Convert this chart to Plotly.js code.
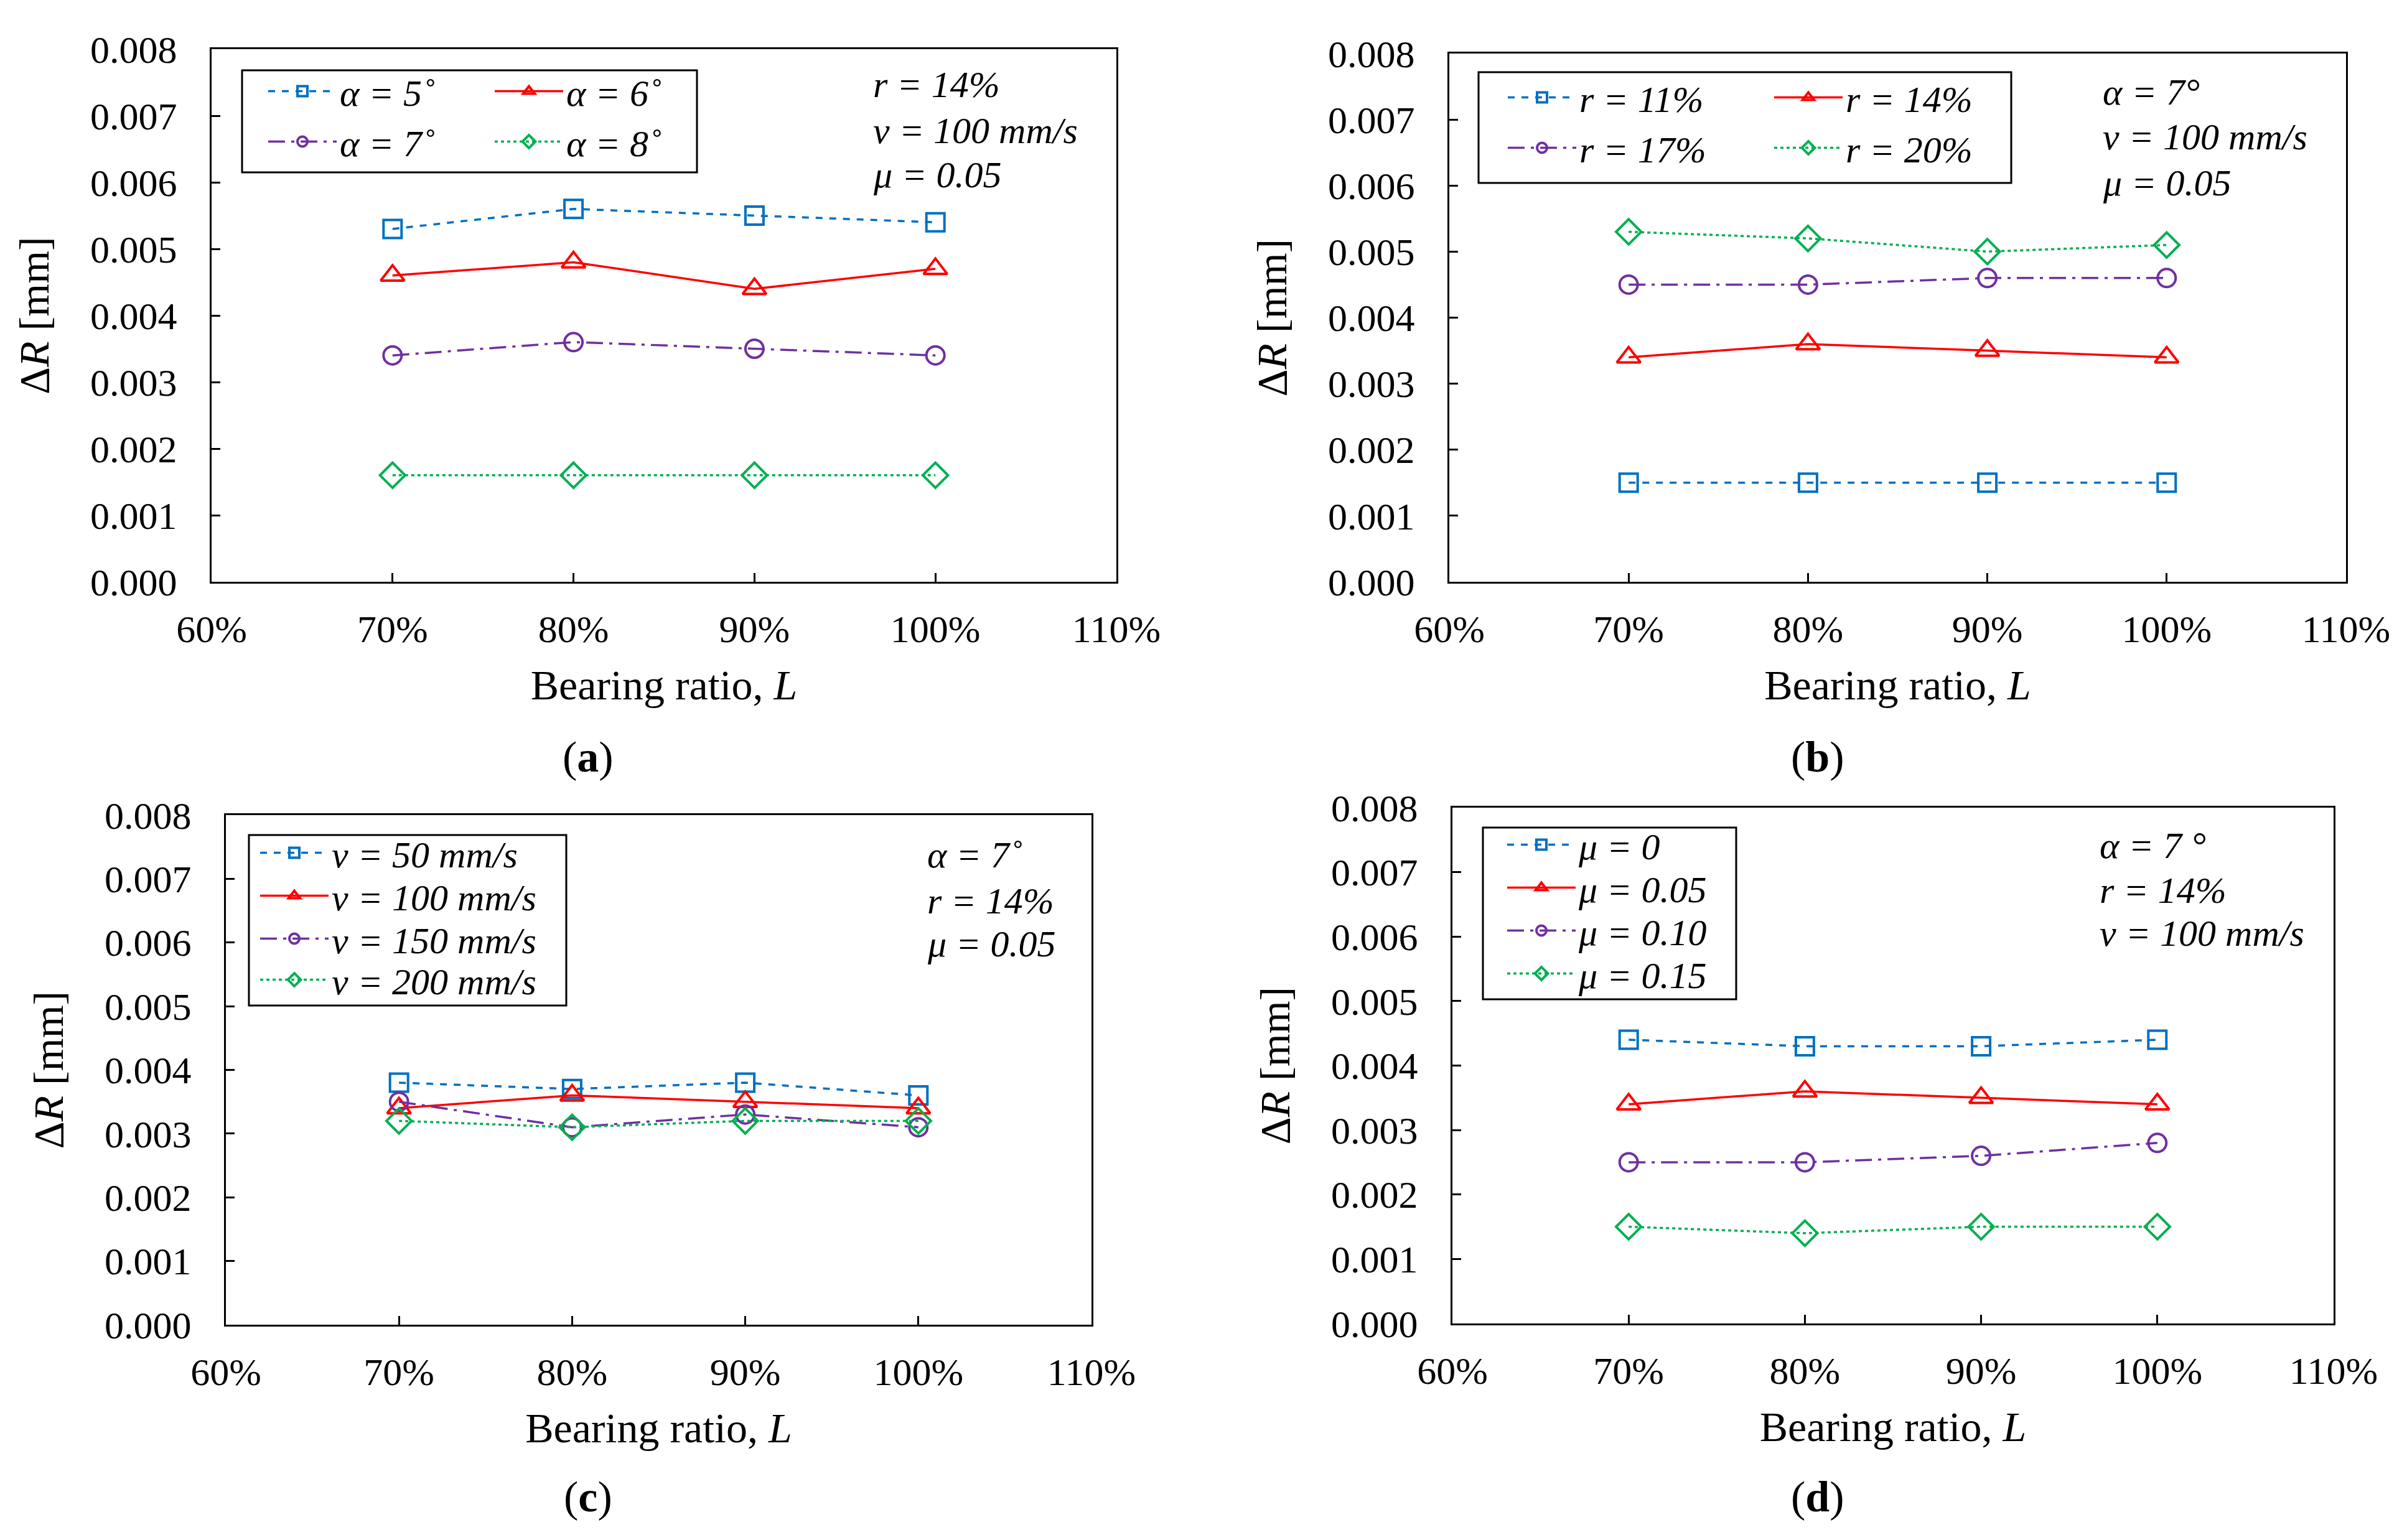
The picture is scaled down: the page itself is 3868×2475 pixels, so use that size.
<!DOCTYPE html>
<html>
<head>
<meta charset="utf-8">
<script src="https://cdn.plot.ly/plotly-3.0.1.min.js"></script>
<style>html,body{margin:0;padding:0;background:#fff;}#chart{width:3868px;height:2475px;}</style>
</head>
<body>
<div id="chart"></div>
<script>
// ---- data ----
const bearingRatio = [0.7, 0.8, 0.9, 1.0];
const xTickVals = [0.6, 0.7, 0.8, 0.9, 1.0, 1.1];
const xTickText = ['60%', '70%', '80%', '90%', '100%', '110%'];
const yTickVals = [0, 0.001, 0.002, 0.003, 0.004, 0.005, 0.006, 0.007, 0.008];
const yTickText = ['0.000', '0.001', '0.002', '0.003', '0.004', '0.005', '0.006', '0.007', '0.008'];

// (a) cone angle
const aNames = ['α = 5˚', 'α = 6˚', 'α = 7˚', 'α = 8˚'];
const aAlpha5 = [0.0053, 0.0056, 0.0055, 0.0054];
const aAlpha6 = [0.0046, 0.0048, 0.0044, 0.0047];
const aAlpha7 = [0.0034, 0.0036, 0.0035, 0.0034];
const aAlpha8 = [0.0016, 0.0016, 0.0016, 0.0016];
// (b) reduction ratio
const bNames = ['r = 11%', 'r = 14%', 'r = 17%', 'r = 20%'];
const bR11 = [0.0015, 0.0015, 0.0015, 0.0015];
const bR14 = [0.0034, 0.0036, 0.0035, 0.0034];
const bR17 = [0.0045, 0.0045, 0.0046, 0.0046];
const bR20 = [0.0053, 0.0052, 0.0050, 0.0051];
// (c) speed
const cNames = ['v = 50 mm/s', 'v = 100 mm/s', 'v = 150 mm/s', 'v = 200 mm/s'];
const cV50 = [0.0038, 0.0037, 0.0038, 0.0036];
const cV100 = [0.0034, 0.0036, 0.0035, 0.0034];
const cV150 = [0.0035, 0.0031, 0.0033, 0.0031];
const cV200 = [0.0032, 0.0031, 0.0032, 0.0032];
// (d) friction
const dNames = ['μ = 0', 'μ = 0.05', 'μ = 0.10', 'μ = 0.15'];
const dMu0 = [0.0044, 0.0043, 0.0043, 0.0044];
const dMu005 = [0.0034, 0.0036, 0.0035, 0.0034];
const dMu010 = [0.0025, 0.0025, 0.0026, 0.0028];
const dMu015 = [0.0015, 0.0014, 0.0015, 0.0015];

// parameter notes per panel
const aNotes = ['r = 14%', 'v = 100 mm/s', 'μ = 0.05'];
const bNotes = ['α = 7°', 'v = 100 mm/s', 'μ = 0.05'];
const cNotes = ['α = 7˚', 'r = 14%', 'μ = 0.05'];
const dNotes = ['α = 7 °', 'r = 14%', 'v = 100 mm/s'];
const panelLabels = ['a', 'b', 'c', 'd'];

// ---- styles ----
const FONT = 'Liberation Serif, Times New Roman, serif';
const S = [
  {color: '#0070C0', dash: '11px,11px', symbol: 'square-open', size: 29},
  {color: '#FF0000', dash: 'solid', symbol: 'triangle-up-open', size: 33},
  {color: '#7030A0', dash: '27px,10px,5px,10px', symbol: 'circle-open', size: 29},
  {color: '#00B050', dash: '5px,5px', symbol: 'diamond-open', size: 31}
];

function tr(y, name, k, xa, ya, legend) {
  const s = S[k];
  return {
    x: bearingRatio, y: y, name: name, type: 'scatter', mode: 'lines+markers',
    xaxis: xa, yaxis: ya, legend: legend,
    line: {color: s.color, width: 3.5, dash: s.dash},
    marker: {symbol: s.symbol, size: s.size, color: s.color, line: {color: s.color, width: 4}}
  };
}

const data = [
  tr(aAlpha5, aNames[0], 0, 'x', 'y', 'legend'),
  tr(aAlpha7, aNames[2], 2, 'x', 'y', 'legend'),
  tr(aAlpha6, aNames[1], 1, 'x', 'y', 'legend2'),
  tr(aAlpha8, aNames[3], 3, 'x', 'y', 'legend2'),
  tr(bR11, bNames[0], 0, 'x2', 'y2', 'legend3'),
  tr(bR17, bNames[2], 2, 'x2', 'y2', 'legend3'),
  tr(bR14, bNames[1], 1, 'x2', 'y2', 'legend4'),
  tr(bR20, bNames[3], 3, 'x2', 'y2', 'legend4'),
  tr(cV50, cNames[0], 0, 'x3', 'y3', 'legend5'),
  tr(cV100, cNames[1], 1, 'x3', 'y3', 'legend6'),
  tr(cV150, cNames[2], 2, 'x3', 'y3', 'legend7'),
  tr(cV200, cNames[3], 3, 'x3', 'y3', 'legend8'),
  tr(dMu0, dNames[0], 0, 'x4', 'y4', 'legend9'),
  tr(dMu005, dNames[1], 1, 'x4', 'y4', 'legend10'),
  tr(dMu010, dNames[2], 2, 'x4', 'y4', 'legend11'),
  tr(dMu015, dNames[3], 3, 'x4', 'y4', 'legend12')
];

const W = 3868, H = 2475;
// plot-area pixel boxes [left, right, top, bottom]
const boxes = [
  [340, 1794, 79, 935],
  [2329, 3770, 86, 935],
  [363, 1754, 1310, 2129],
  [2334, 3750, 1298, 2127]
];

function xAx(k) {
  const b = boxes[k];
  return {
    domain: [b[0] / W, b[1] / W], anchor: k === 0 ? 'y' : 'y' + (k + 1),
    range: [0.6, 1.1], tickvals: xTickVals, ticktext: xTickText,
    showgrid: false, zeroline: false, showline: true, mirror: true,
    linecolor: '#000', linewidth: 3, ticks: 'inside', ticklen: 14, tickwidth: 3, tickcolor: '#000',
    ticklabelstandoff: 20,
    tickfont: {family: FONT, size: 62, color: '#000'},
    title: {text: 'Bearing ratio, <i>L</i>', font: {family: FONT, size: 68, color: '#000'}, standoff: 32},
    fixedrange: true
  };
}
function yAx(k) {
  const b = boxes[k];
  return {
    domain: [1 - b[3] / H, 1 - b[2] / H], anchor: k === 0 ? 'x' : 'x' + (k + 1),
    range: [0, 0.008], tickvals: yTickVals, ticktext: yTickText,
    showgrid: false, zeroline: false, showline: true, mirror: true,
    linecolor: '#000', linewidth: 3, ticks: 'inside', ticklen: 14, tickwidth: 3, tickcolor: '#000',
    ticklabelstandoff: 40,
    tickfont: {family: FONT, size: 62, color: '#000'},
    title: {text: 'Δ<i>R</i> [mm]', font: {family: FONT, size: 68, color: '#000'}, standoff: 45},
    fixedrange: true
  };
}

const legFontItalic = (sz) => ({family: FONT, size: sz, color: '#000', style: 'italic'});
// x = pixel where the legend symbol should start, yc = pixel centre of first row
function leg(x, yc, sz) {
  return {
    x: (x - 6) / W, y: 1 - (yc - 52) / H, xanchor: 'left', yanchor: 'top', orientation: 'v',
    bgcolor: 'rgba(255,255,255,0)', borderwidth: 0,
    itemwidth: 110, font: legFontItalic(sz), traceorder: 'normal', tracegroupgap: 0
  };
}

const annotations = [];
const notePos = [
  [1401, [136, 210, 281]],
  [3377, [148, 220, 294]],
  [1488, [1374, 1448, 1517]],
  [3372, [1359, 1431, 1500]]
];
const notes = [aNotes, bNotes, cNotes, dNotes];
notes.forEach((arr, k) => {
  arr.forEach((t, i) => {
    annotations.push({
      text: t, xref: 'paper', yref: 'paper', x: notePos[k][0] / W, y: 1 - notePos[k][1][i] / H,
      xanchor: 'left', yanchor: 'middle', showarrow: false,
      font: {family: FONT, size: 60, color: '#000', style: 'italic'}
    });
  });
});
const labelPos = [[945, 1216], [2921, 1216], [945, 2405], [2921, 2405]];
panelLabels.forEach((l, k) => {
  annotations.push({
    text: '(<b>' + l + '</b>)', xref: 'paper', yref: 'paper',
    x: labelPos[k][0] / W, y: 1 - labelPos[k][1] / H, xanchor: 'center', yanchor: 'middle',
    showarrow: false, font: {family: FONT, size: 70, color: '#000'}
  });
});

function rect(x0, x1, y0, y1) {
  return {type: 'rect', xref: 'paper', yref: 'paper', x0: x0 / W, x1: x1 / W, y0: 1 - y1 / H, y1: 1 - y0 / H,
          line: {color: '#000', width: 3}};
}
const shapes = [
  rect(389, 1120, 113, 277),
  rect(2376, 3232, 116, 294),
  rect(400, 910, 1342, 1616),
  rect(2383, 2790, 1330, 1606)
];

const layout = {
  width: W, height: H, margin: {l: 0, r: 0, t: 0, b: 0},
  paper_bgcolor: '#fff', plot_bgcolor: '#fff', showlegend: true,
  xaxis: xAx(0), yaxis: yAx(0), xaxis2: xAx(1), yaxis2: yAx(1),
  xaxis3: xAx(2), yaxis3: yAx(2), xaxis4: xAx(3), yaxis4: yAx(3),
  legend: leg(432, 153, 60),
  legend2: leg(796, 153, 60),
  legend3: leg(2424, 163, 60),
  legend4: leg(2852, 163, 60),
  legend5: leg(419, 1377, 60),
  legend6: leg(419, 1446, 60),
  legend7: leg(419, 1515, 60),
  legend8: leg(419, 1581, 60),
  legend9: leg(2423, 1364, 60),
  legend10: leg(2423, 1433, 60),
  legend11: leg(2423, 1502, 60),
  legend12: leg(2423, 1571, 60),
  annotations: annotations, shapes: shapes
};

Plotly.newPlot('chart', data, layout, {staticPlot: true, displayModeBar: false});
</script>
</body>
</html>
